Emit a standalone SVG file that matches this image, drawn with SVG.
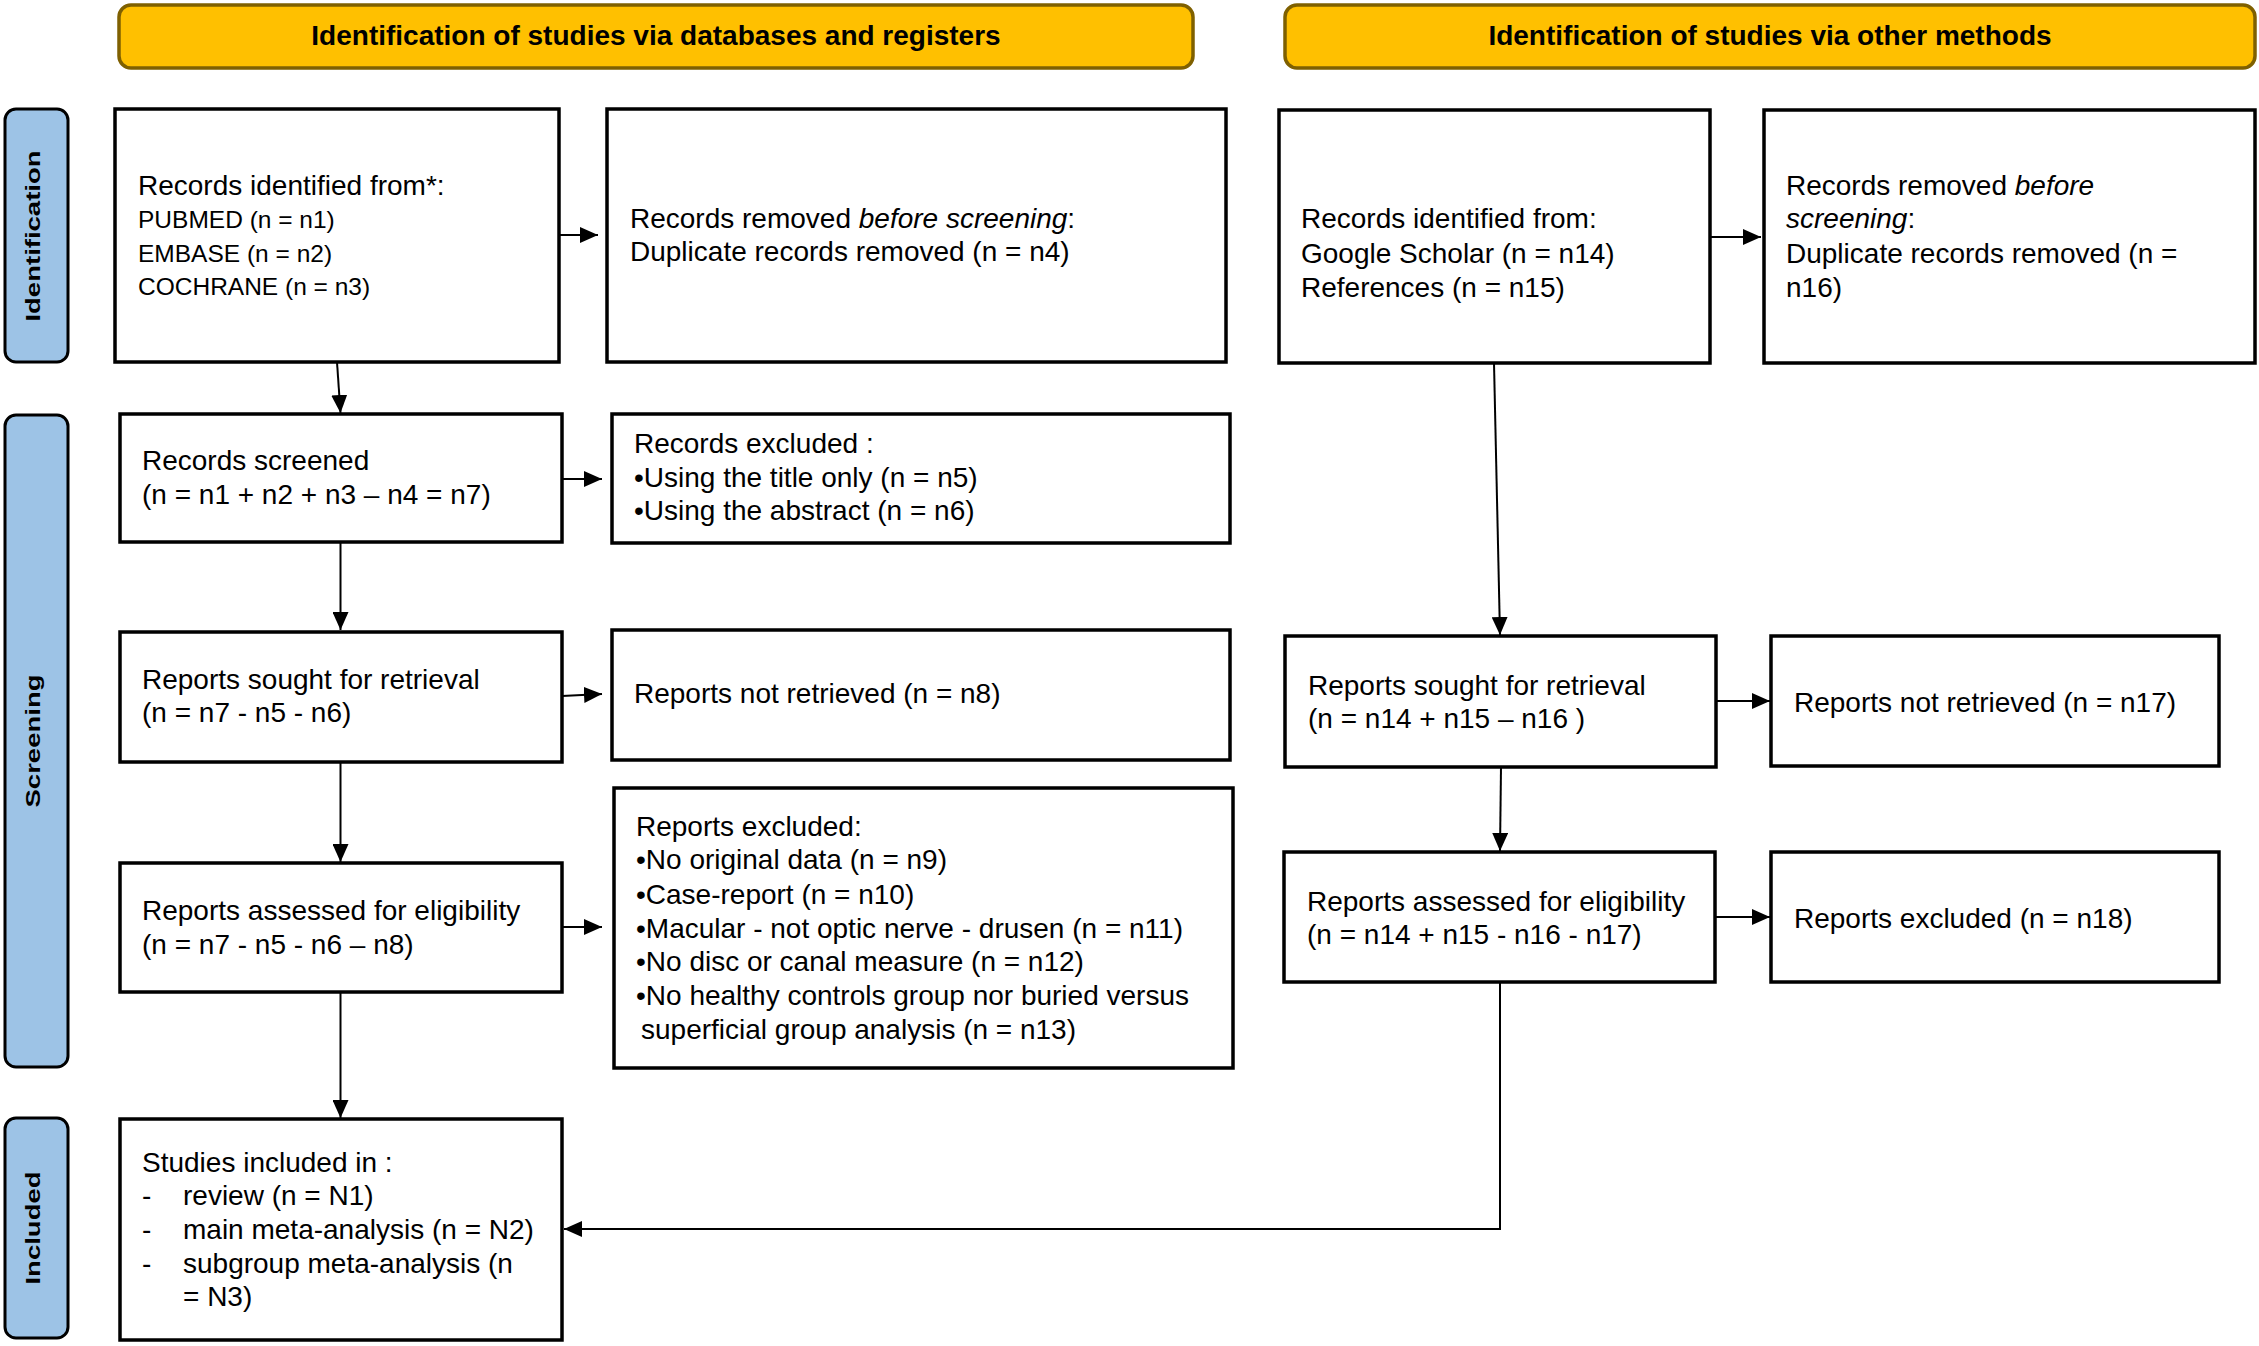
<svg xmlns="http://www.w3.org/2000/svg" width="2259" height="1346" viewBox="0 0 2259 1346">
<style>
  .box { fill: #ffffff; stroke: #000000; stroke-width: 3.5; }
  .hdr { fill: #FFC000; stroke: #7F6000; stroke-width: 3.5; }
  .side { fill: #9DC3E6; stroke: #000000; stroke-width: 3; }
  .t { font-family: "Liberation Sans", Arial, sans-serif; font-size: 28px; fill: #000000; }
  .ts { font-family: "Liberation Sans", Arial, sans-serif; font-size: 24.5px; fill: #000000; }
  .th { font-family: "Liberation Sans", Arial, sans-serif; font-size: 28px; font-weight: bold; fill: #000000; text-anchor: middle; }
  .tside { font-family: "Liberation Sans", Arial, sans-serif; font-size: 21px; font-weight: bold; fill: #000000; text-anchor: middle; }
  .conn { fill: none; stroke: #000000; stroke-width: 2; }
</style>
<defs>
  <marker id="arr" markerUnits="userSpaceOnUse" markerWidth="18" markerHeight="16" refX="18" refY="8" orient="auto">
    <path d="M0,0 L18,8 L0,16 Z" fill="#000000"/>
  </marker>
</defs>
<rect width="2259" height="1346" fill="#ffffff"/>

<g id="header-databases">
  <rect class="hdr" x="119" y="5" width="1074" height="63" rx="12"/>
  <text class="th" x="656" y="45">Identification of studies via databases and registers</text>
</g>
<g id="header-other">
  <rect class="hdr" x="1285" y="5" width="970" height="63" rx="12"/>
  <text class="th" x="1770" y="45">Identification of studies via other methods</text>
</g>

<g id="side-identification">
  <rect class="side" x="5" y="109" width="63" height="253" rx="11"/>
  <text class="tside" transform="translate(33,236) rotate(-90) scale(1.31,1)" x="0" y="7">Identification</text>
</g>
<g id="side-screening">
  <rect class="side" x="5" y="415" width="63" height="652" rx="11"/>
  <text class="tside" transform="translate(33,741) rotate(-90) scale(1.31,1)" x="0" y="7">Screening</text>
</g>
<g id="side-included">
  <rect class="side" x="5" y="1118" width="63" height="220" rx="11"/>
  <text class="tside" transform="translate(33,1228) rotate(-90) scale(1.31,1)" x="0" y="7">Included</text>
</g>

<g id="records-identified-db">
  <rect class="box" x="115" y="109" width="444" height="253"/>
  <text class="t" x="138" y="195">Records identified from*:</text>
  <text class="ts" x="138" y="228">PUBMED  (n = n1)</text>
  <text class="ts" x="138" y="262">EMBASE (n = n2)</text>
  <text class="ts" x="138" y="295">COCHRANE (n = n3)</text>
</g>
<g id="records-removed-db">
  <rect class="box" x="607" y="109" width="619" height="253"/>
  <text class="t" x="630" y="228">Records removed <tspan font-style="italic">before screening</tspan>:</text>
  <text class="t" x="630" y="261">Duplicate records removed  (n = n4)</text>
</g>
<g id="records-screened">
  <rect class="box" x="120" y="414" width="442" height="128"/>
  <text class="t" x="142" y="470">Records screened</text>
  <text class="t" x="142" y="504">(n = n1 + n2 + n3 – n4 = n7)</text>
</g>
<g id="records-excluded">
  <rect class="box" x="612" y="414" width="618" height="129"/>
  <text class="t" x="634" y="453">Records excluded :</text>
  <text class="t" x="634" y="487">•Using the title only (n = n5)</text>
  <text class="t" x="634" y="520">•Using the abstract (n = n6)</text>
</g>
<g id="reports-sought-db">
  <rect class="box" x="120" y="632" width="442" height="130"/>
  <text class="t" x="142" y="689">Reports sought for retrieval</text>
  <text class="t" x="142" y="722">(n = n7 - n5 - n6)</text>
</g>
<g id="reports-not-retrieved-db">
  <rect class="box" x="612" y="630" width="618" height="130"/>
  <text class="t" x="634" y="703">Reports not retrieved (n = n8)</text>
</g>
<g id="reports-assessed-db">
  <rect class="box" x="120" y="863" width="442" height="129"/>
  <text class="t" x="142" y="920">Reports assessed for eligibility</text>
  <text class="t" x="142" y="954">(n = n7 - n5 - n6 – n8)</text>
</g>
<g id="reports-excluded-db">
  <rect class="box" x="614" y="788" width="619" height="280"/>
  <text class="t" x="636" y="836">Reports excluded:</text>
  <text class="t" x="636" y="869">•No original data (n = n9)</text>
  <text class="t" x="636" y="904">•Case-report (n = n10)</text>
  <text class="t" x="636" y="938">•Macular - not optic nerve - drusen (n = n11)</text>
  <text class="t" x="636" y="971">•No disc or canal measure (n = n12)</text>
  <text class="t" x="636" y="1005">•No healthy controls group nor buried versus</text>
  <text class="t" x="641" y="1039">superficial group analysis (n = n13)</text>
</g>
<g id="studies-included">
  <rect class="box" x="120" y="1119" width="442" height="221"/>
  <text class="t" x="142" y="1172">Studies included in :</text>
  <text class="t" x="142" y="1205">-</text>
  <text class="t" x="183" y="1205">review (n = N1)</text>
  <text class="t" x="142" y="1239">-</text>
  <text class="t" x="183" y="1239">main meta-analysis (n = N2)</text>
  <text class="t" x="142" y="1273">-</text>
  <text class="t" x="183" y="1273">subgroup meta-analysis (n</text>
  <text class="t" x="183" y="1306">= N3)</text>
</g>

<g id="records-identified-other">
  <rect class="box" x="1279" y="110" width="431" height="253"/>
  <text class="t" x="1301" y="228">Records identified from:</text>
  <text class="t" x="1301" y="263">Google Scholar (n = n14)</text>
  <text class="t" x="1301" y="297">References (n = n15)</text>
</g>
<g id="records-removed-other">
  <rect class="box" x="1764" y="110" width="491" height="253"/>
  <text class="t" x="1786" y="195">Records removed <tspan font-style="italic">before</tspan></text>
  <text class="t" x="1786" y="228"><tspan font-style="italic">screening</tspan>:</text>
  <text class="t" x="1786" y="263">Duplicate records removed  (n =</text>
  <text class="t" x="1786" y="297">n16)</text>
</g>
<g id="reports-sought-other">
  <rect class="box" x="1285" y="636" width="431" height="131"/>
  <text class="t" x="1308" y="695">Reports sought for retrieval</text>
  <text class="t" x="1308" y="728">(n = n14 + n15 – n16 )</text>
</g>
<g id="reports-not-retrieved-other">
  <rect class="box" x="1771" y="636" width="448" height="130"/>
  <text class="t" x="1794" y="712">Reports not retrieved (n = n17)</text>
</g>
<g id="reports-assessed-other">
  <rect class="box" x="1284" y="852" width="431" height="130"/>
  <text class="t" x="1307" y="911">Reports assessed for eligibility</text>
  <text class="t" x="1307" y="944">(n = n14 + n15 - n16 - n17)</text>
</g>
<g id="reports-excluded-other">
  <rect class="box" x="1771" y="852" width="448" height="130"/>
  <text class="t" x="1794" y="928">Reports excluded (n = n18)</text>
</g>

<g id="connectors">
  <path class="conn" d="M559,235 L598,235" marker-end="url(#arr)"/>
  <path class="conn" d="M337,362 L340.5,413" marker-end="url(#arr)"/>
  <path class="conn" d="M562,479 L602,479" marker-end="url(#arr)"/>
  <path class="conn" d="M340.5,542 L340.5,630" marker-end="url(#arr)"/>
  <path class="conn" d="M562,696 L602,694" marker-end="url(#arr)"/>
  <path class="conn" d="M340.5,762 L340.5,862" marker-end="url(#arr)"/>
  <path class="conn" d="M562,927 L602,927" marker-end="url(#arr)"/>
  <path class="conn" d="M340.5,992 L340.5,1118" marker-end="url(#arr)"/>
  <path class="conn" d="M1710,237 L1761,237" marker-end="url(#arr)"/>
  <path class="conn" d="M1494,363 L1500,635" marker-end="url(#arr)"/>
  <path class="conn" d="M1716,701 L1770,701" marker-end="url(#arr)"/>
  <path class="conn" d="M1501,767 L1500,851" marker-end="url(#arr)"/>
  <path class="conn" d="M1715,917 L1770,917" marker-end="url(#arr)"/>
  <path class="conn" d="M1500,982 L1500,1229 L564,1229" marker-end="url(#arr)"/>
</g>
</svg>
